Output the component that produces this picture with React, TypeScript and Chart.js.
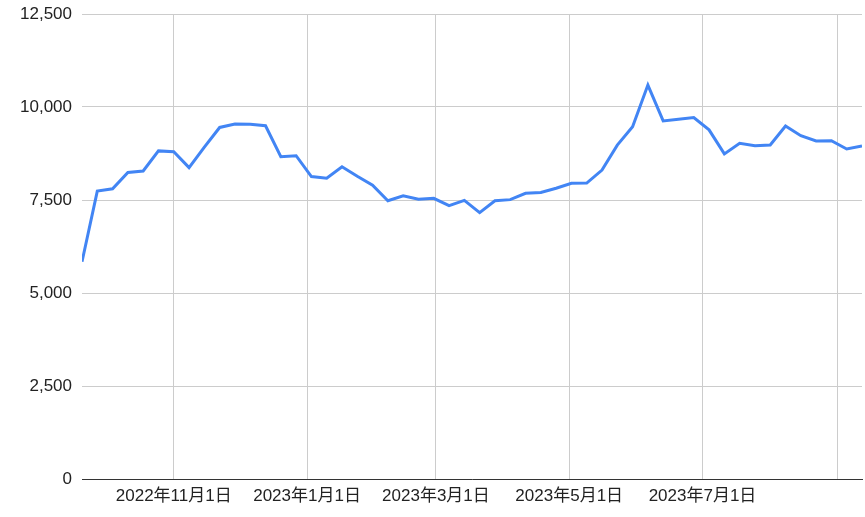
import { useEffect, useRef } from "react";
import { Chart, registerables } from "chart.js";

Chart.register(...registerables);

const weekDates = [
  "2022-09-20", "2022-09-27", "2022-10-04", "2022-10-11", "2022-10-18", "2022-10-25",
  "2022-11-01", "2022-11-08", "2022-11-15", "2022-11-22", "2022-11-29", "2022-12-06",
  "2022-12-13", "2022-12-20", "2022-12-27", "2023-01-03", "2023-01-10", "2023-01-17",
  "2023-01-24", "2023-01-31", "2023-02-07", "2023-02-14", "2023-02-21", "2023-02-28",
  "2023-03-07", "2023-03-14", "2023-03-21", "2023-03-28", "2023-04-04", "2023-04-11",
  "2023-04-18", "2023-04-25", "2023-05-02", "2023-05-09", "2023-05-16", "2023-05-23",
  "2023-05-30", "2023-06-06", "2023-06-13", "2023-06-20", "2023-06-27", "2023-07-04",
  "2023-07-11", "2023-07-18", "2023-07-25", "2023-08-01", "2023-08-08", "2023-08-15",
  "2023-08-22", "2023-08-29", "2023-09-05", "2023-09-12",
];

const values = [
  5840, 7740, 7800, 8240, 8280, 8820,
  8800, 8370, 8920, 9450, 9545, 9535,
  9495, 8665, 8690, 8130, 8085, 8395,
  8140, 7900, 7480, 7615, 7520, 7545,
  7350, 7490, 7160, 7480, 7510, 7680,
  7700, 7815, 7950, 7955, 8305, 8975,
  9470, 10590, 9625, 9670, 9715, 9385,
  8740, 9025, 8960, 8980, 9490, 9230,
  9085, 9095, 8870, 8950,
];

const tickDates = ["2022-11-01", "2023-01-01", "2023-03-01", "2023-05-01", "2023-07-01", "2023-09-01"];
const tickLabels = ["2022年11月1日", "2023年1月1日", "2023年3月1日", "2023年5月1日", "2023年7月1日", ""];

const yTicks = [0, 2500, 5000, 7500, 10000, 12500];

const DAY = 86400000;
const toDay = (s: string) => {
  const [y, m, d] = s.split("-").map(Number);
  return Date.UTC(y, m - 1, d) / DAY;
};
const origin = toDay(weekDates[0]);

export default function App() {
  const ref = useRef<HTMLCanvasElement | null>(null);

  useEffect(() => {
    if (!ref.current) return;
    const tickOffsets = tickDates.map((d) => toDay(d) - origin);
    const chart = new Chart(ref.current, {
      type: "line",
      data: {
        datasets: [
          {
            data: weekDates.map((d, i) => ({ x: toDay(d) - origin, y: values[i] })),
            borderColor: "#4285F4",
            borderWidth: 3,
            pointRadius: 0,
            pointHoverRadius: 0,
            tension: 0,
            fill: false,
          },
        ],
      },
      options: {
        animation: false,
        responsive: false,
        devicePixelRatio: 1,
        layout: { padding: { top: 14, right: 3, left: 0, bottom: 0 } },
        plugins: { legend: { display: false }, tooltip: { enabled: false } },
        scales: {
          x: {
            type: "linear",
            min: 0,
            max: toDay(weekDates[weekDates.length - 1]) - origin,
            afterBuildTicks: (scale: any) => {
              scale.ticks = tickOffsets.map((v) => ({ value: v }));
            },
            afterFit: (scale: any) => {
              scale.height = 38;
              scale.paddingLeft = 0;
              scale.paddingRight = 0;
            },
            grid: { color: "#cccccc", lineWidth: 1, drawTicks: false },
            border: { display: true, color: "#333333", width: 1 },
            ticks: {
              autoSkip: false,
              maxRotation: 0,
              minRotation: 0,
              padding: 7,
              color: "#222222",
              font: { family: "'Liberation Sans', 'Noto Sans CJK JP', sans-serif", size: 17 },
              callback: (_v: any, i: number) => tickLabels[i] ?? "",
            },
          },
          y: {
            type: "linear",
            min: 0,
            max: 12500,
            afterBuildTicks: (scale: any) => {
              scale.ticks = yTicks.map((v) => ({ value: v }));
            },
            afterFit: (scale: any) => {
              scale.width = 82;
              scale.paddingTop = 0;
              scale.paddingBottom = 0;
            },
            grid: { color: "#cccccc", lineWidth: 1, drawTicks: false },
            border: { display: false },
            ticks: {
              padding: 10,
              color: "#222222",
              font: { family: "'Liberation Sans', 'Noto Sans CJK JP', sans-serif", size: 17 },
              callback: (v: any) => Number(v).toLocaleString("en-US"),
            },
          },
        },
      } as any,
    });
    return () => chart.destroy();
  }, []);

  return (
    <div style={{ position: "absolute", left: 0, top: 0, width: 865, height: 517, background: "#ffffff" }}>
      <canvas ref={ref} width={865} height={517} style={{ width: 865, height: 517 }} />
    </div>
  );
}
